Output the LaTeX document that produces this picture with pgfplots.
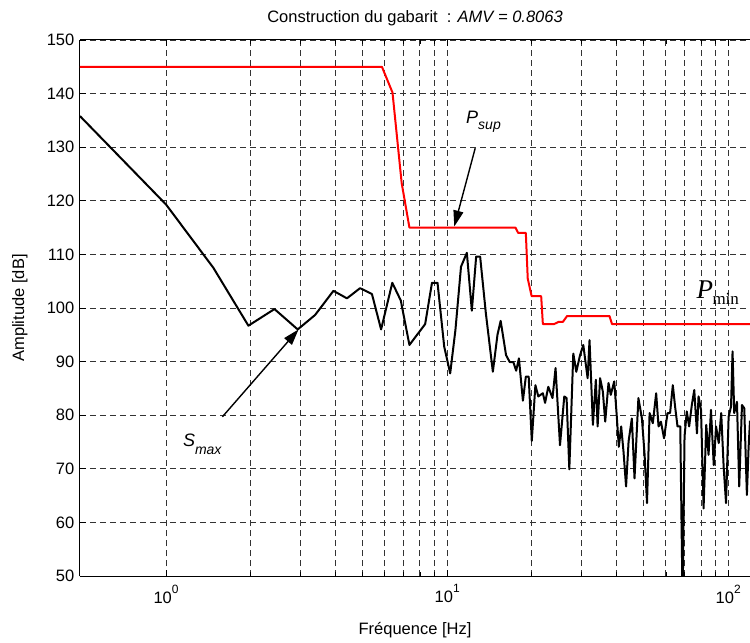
\documentclass[border=0pt]{standalone}
\usepackage{fontspec}
\setmainfont{Liberation Sans}
\newfontfamily\timesf{Liberation Serif}
\usepackage{pgfplots}
\usepackage{pgfplotstable}
\pgfplotsset{compat=1.18}
\usetikzlibrary{arrows.meta}

\pgfplotstableread{
f A
0.494 135.8
1.0 119.3
1.473 107.5
1.963 96.7
2.43 99.8
2.94 96.0
3.39 98.7
3.94 103.2
4.40 101.8
4.90 103.7
5.40 102.6
5.82 96.0
6.38 104.7
6.84 101.4
7.34 93.1
8.35 97.0
8.83 104.7
9.24 104.7
9.76 92.8
10.25 87.8
10.7 95.9
11.2 107.7
11.75 110.3
12.24 99.5
12.68 109.6
13.1 109.6
13.73 99.0
14.54 88.1
15.1 95.0
15.5 97.6
16.2 91.2
16.7 89.9
17.2 89.9
17.6 88.3
18.0 90.6
18.6 82.7
19.05 87.2
19.5 87.2
20.0 75.2
20.6 85.6
21.1 83.5
21.9 84.1
22.3 82.3
22.9 85.3
23.7 83.2
24.3 88.8
25.2 74.4
26.1 83.5
26.6 83.2
27.2 69.9
28.1 91.5
28.8 88.1
29.7 91.2
30.5 93.1
31.6 86.9
32.1 94.0
33.0 78.2
33.8 86.6
34.3 77.9
35.0 86.9
35.8 84.4
36.5 78.8
37.5 86.0
38.2 83.8
39.3 86.3
40.1 80.0
40.8 74.1
41.6 77.9
42.4 73.2
43.3 66.7
44.2 75.1
45.4 79.4
46.4 68.2
47.9 83.2
49.3 79.4
50.4 72.6
51.4 63.6
52.5 80.4
53.9 78.5
55.4 84.1
56.5 77.9
57.6 78.8
59.1 75.7
60.8 80.4
62.1 80.4
63.5 85.6
64.7 81.6
66.0 77.9
67.5 77.9
68.8 45.0
69.9 76.0
71.2 80.7
72.6 77.9
74.2 81.9
75.7 84.7
77.4 76.6
78.4 83.5
80.0 81.0
81.7 62.6
83.5 78.2
85.1 72.6
86.8 81.0
88.8 70.7
90.5 77.9
92.5 74.8
94.4 80.4
96.3 70.4
98.2 63.6
100.3 79.7
102.3 81.6
103.6 91.9
105.0 80.4
107.4 82.5
109.4 66.7
111.9 81.9
114.0 81.3
116.5 65.1
118.1 73.8
119.5 79.0
}\smax

\pgfplotstableread{
f A
0.494 145.0
5.86 145.0
6.39 140.2
6.89 123.3
7.34 115.0
17.5 115.0
17.9 114.0
19.05 114.0
19.35 105.5
19.98 102.2
21.6 102.2
21.9 97.0
24.0 97.0
24.9 97.4
25.8 97.4
26.7 98.5
37.8 98.5
38.6 97.0
119.5 97.0
}\psup

\begin{document}
\fontsize{16.5bp}{19bp}\selectfont
\begin{tikzpicture}
\begin{axis}[
  scale only axis, width=670bp, height=536bp,
  xmode=log, xmin=0.494, xmax=119.5, ymin=50, ymax=150,
  ytick={50,60,...,150},
  xtick={1,10,100},
  xticklabels={10\raisebox{10bp}{\fontsize{12bp}{12bp}\selectfont 0},10\raisebox{10bp}{\fontsize{12bp}{12bp}\selectfont 1},10\raisebox{10bp}{\fontsize{12bp}{12bp}\selectfont 2}},
  /pgf/number format/assume math mode=true,
  axis x line*=box, axis y line*=left,
  tick align=inside, major tick length=6bp, minor tick length=4bp,
  grid=both,
  major grid style={black!80, dash pattern=on 6bp off 4bp, line width=0.9bp},
  minor grid style={black!80, dash pattern=on 6bp off 4bp, line width=0.9bp},
  axis line style={black, line width=1bp},
  tick style={black, line width=0.8bp},
  tick label style={font=\fontsize{16.5bp}{19bp}\selectfont},
  xticklabel style={yshift=-3bp},
  title={Construction du gabarit\ \ : \textit{AMV = 0.8063}},
  title style={at={(axis description cs:0.5,1)}, anchor=base, yshift=12bp, font=\fontsize{16.5bp}{19bp}\selectfont},
  xlabel={Fréquence [Hz]},
  xlabel style={at={(axis description cs:0.5,-0.1007)}, anchor=center, font=\fontsize{16.5bp}{19bp}\selectfont},
  ylabel={Amplitude [dB]},
  ylabel style={at={(axis description cs:-0.0896,0.5)}, anchor=center, font=\fontsize{16.5bp}{19bp}\selectfont},
]
\addplot[black, line width=2bp, line join=round] table[x=f, y=A] {\smax};
\addplot[red, line width=2bp, line join=round] table[x=f, y=A] {\psup};

\draw[line width=1.4bp, -{Triangle[length=16bp,width=10bp]}] (axis cs:1.586,79.7) -- (axis cs:2.96,96.0);
\draw[line width=1.4bp, -{Triangle[length=16bp,width=10bp]}] (axis cs:12.58,129.8) -- (axis cs:10.6,115.2);

\node[anchor=base west, inner sep=0] at (axis cs:11.67,134.46)
  {\fontsize{18bp}{18bp}\selectfont\itshape P\raisebox{-6.5bp}{\fontsize{14bp}{14bp}\selectfont sup}};
\node[anchor=base west, inner sep=0] at (axis cs:1.147,74.1)
  {\fontsize{18bp}{18bp}\selectfont\itshape S\raisebox{-8bp}{\fontsize{14bp}{14bp}\selectfont max}};
\node[anchor=base west, inner sep=0] at (axis cs:77.0,101.8)
  {{\timesf\fontsize{27bp}{27bp}\selectfont\itshape P}\hspace{-0.5bp}\raisebox{-5.7bp}{\timesf\fontsize{17bp}{17bp}\selectfont min}};
\end{axis}
\pgfresetboundingbox
\path (-80bp,-67bp) rectangle (670bp,576bp);
\end{tikzpicture}
\end{document}
